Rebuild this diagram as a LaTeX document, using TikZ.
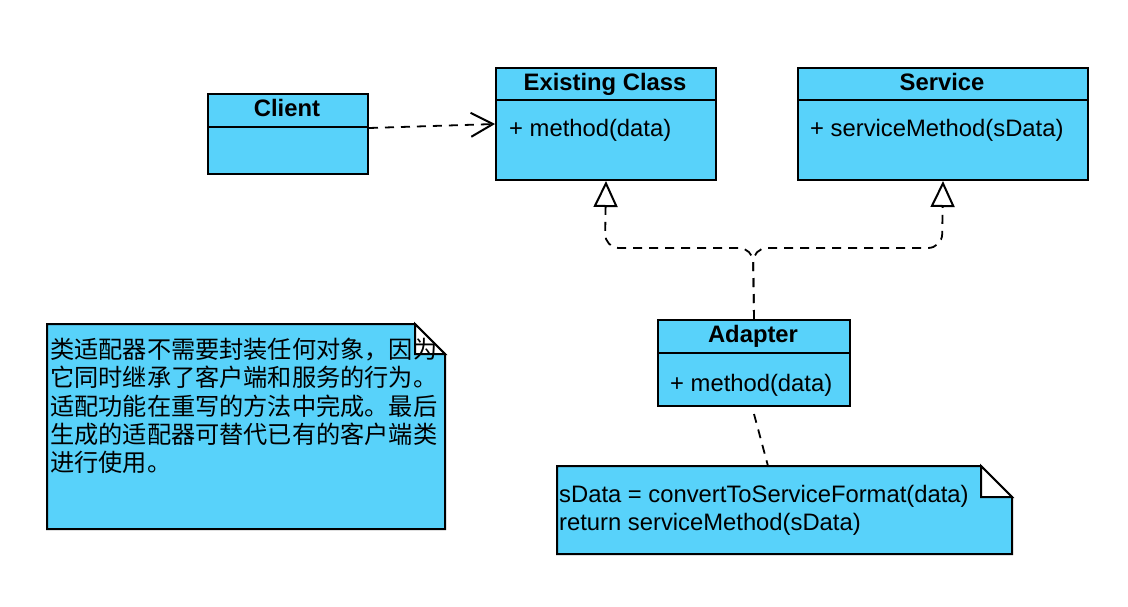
\documentclass[tikz,border=0pt]{standalone}
\usepackage{fontspec}
\setmainfont{Liberation Sans}
\newfontfamily\cjk{Noto Sans CJK SC}
\usetikzlibrary{arrows.meta}
\definecolor{umlfill}{RGB}{88,210,250}
\begin{document}
\begin{tikzpicture}[x=1pt,y=-1pt,
  box/.style={draw, fill=umlfill, line width=2pt, inner sep=0pt, anchor=north west},
  ctitle/.style={font=\bfseries\fontsize{23.8}{28}\selectfont, inner sep=0pt, anchor=base},
  member/.style={font=\fontsize{23.8}{28}\selectfont, anchor=base west, inner sep=0pt},
  dashline/.style={line width=1.8pt, dash pattern=on 9pt off 7pt},
  notebody/.style={draw, fill=umlfill, line width=2pt, line join=miter},
  notefold/.style={draw, fill=white, line width=2pt},
  line/.style={line width=2pt}]
\useasboundingbox (0,0) rectangle (1128,606);

% Client
\node[box, minimum width=160pt, minimum height=80pt] (client) at (207,93) {};
\draw[line] (207,127) -- (367,127);
\node[ctitle] (clientT) at (287,116) {Client};

% Existing Class
\node[box, minimum width=220pt, minimum height=112pt] (existing) at (495,67) {};
\draw[line] (495,100) -- (715,100);
\node[ctitle] (existingT) at (605,90) {Existing Class};
\node[member] (existingM) at (509,136) {+ method(data)};

% Service
\node[box, minimum width=290pt, minimum height=112pt] (service) at (797,67) {};
\draw[line] (797,100) -- (1087,100);
\node[ctitle] (serviceT) at (942,90) {Service};
\node[member] (serviceM) at (810,136) {+ serviceMethod(sData)};

% Adapter
\node[box, minimum width=192pt, minimum height=86pt] (adapter) at (657,319) {};
\draw[line] (657,353) -- (849,353);
\node[ctitle] (adapterT) at (753,342) {Adapter};
\node[member] (adapterM) at (670,391) {+ method(data)};

% Left note
\draw[notebody] (47,324) -- (415,324) -- (445,354) -- (445,529) -- (47,529) -- cycle;
\draw[notefold] (415,324) -- (415,354) -- (445,354) -- cycle;
\node[anchor=north west, inner sep=0pt, align=left, font=\cjk\fontsize{24.2}{28.3}\selectfont] (noteLT) at (50,338)
  {类适配器不需要封装任何对象，因为\\它同时继承了客户端和服务的行为。\\适配功能在重写的方法中完成。最后\\生成的适配器可替代已有的客户端类\\进行使用。};

% Bottom note
\draw[notebody] (557,466) -- (981,466) -- (1012,497) -- (1012,554) -- (557,554) -- cycle;
\draw[notefold] (981,466) -- (981,497) -- (1012,497) -- cycle;
\coordinate (noteBtop) at (768,466);
\node[member] (noteB1) at (559,502) {sData = convertToServiceFormat(data)};
\node[member] (noteB2) at (559,530) {return serviceMethod(sData)};

% Connectors
\draw[dashline, -{Straight Barb[length=22pt,width=24pt,line width=2pt]}]
  ([yshift=6pt]client.east) -- (existing.west);
\draw[dashline, rounded corners=14pt, -{Triangle[length=26pt,width=24pt,fill=white,line width=2pt]}]
  (adapter.north) -- (753,248) -- (605,248) -- (existing.south);
\draw[dashline, rounded corners=14pt, -{Triangle[length=26pt,width=24pt,fill=white,line width=2pt]}]
  (adapter.north) -- (753,248) -- (942,248) -- (service.south);
\draw[dashline] ([yshift=-7pt]adapter.south) -- (noteBtop);
\end{tikzpicture}
\end{document}
